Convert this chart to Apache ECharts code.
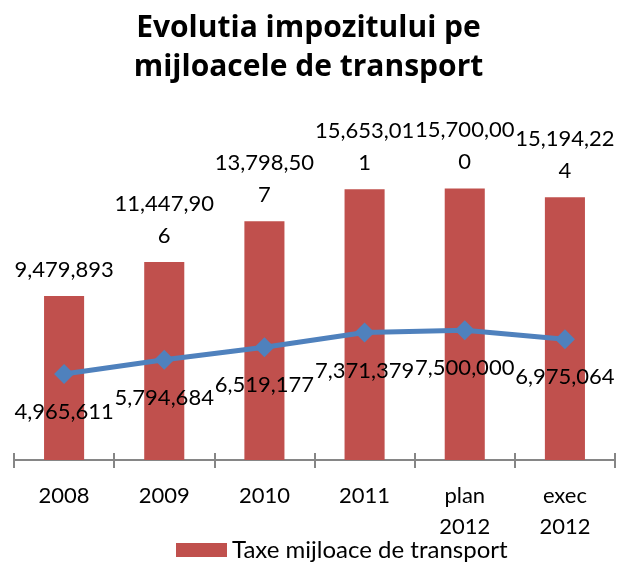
<!DOCTYPE html>
<html>
<head>
<meta charset="utf-8">
<script src="https://cdn.jsdelivr.net/npm/echarts@6/dist/echarts.min.js"></script>
<style>
html,body{margin:0;padding:0;background:#fff;}
#chart{width:617px;height:563px;}
</style>
</head>
<body>
<div id="chart"></div>
<script>
const categories = ['2008', '2009', '2010', '2011', 'plan\n2012', 'exec\n2012'];
const taxeValues = [9479893, 11447906, 13798507, 15653011, 15700000, 15194224];
const impozitValues = [4965611, 5794684, 6519177, 7371379, 7500000, 6975064];
const titleText = 'Evolutia impozitului pe\nmijloacele de transport';
const barSeriesName = 'Taxe mijloace de transport';
const lineSeriesName = 'Impozit mijloace de transport';

function fmt(v) {
  return String(v).replace(/\B(?=(\d{3})+(?!\d))/g, ',');
}
function wrap9(s) {
  return s.length > 9 ? s.slice(0, 9) + '\n' + s.slice(9) : s;
}
const FONT = 'Lato';
const chart = echarts.init(document.getElementById('chart'), null, {renderer: 'canvas'});
chart.setOption({
  animation: false,
  backgroundColor: '#ffffff',
  title: {
    text: titleText,
    left: 'center',
    top: 4,
    textStyle: {fontFamily: 'Open Sans', fontWeight: 'bold', fontSize: 30, lineHeight: 39, color: '#000'}
  },
  legend: {
    data: [barSeriesName],
    left: 176,
    top: 538,
    padding: 0,
    icon: 'rect',
    itemWidth: 51,
    itemHeight: 14,
    textStyle: {fontFamily: FONT, fontSize: 24, color: '#000'}
  },
  grid: {left: 14, right: 2, top: 114, bottom: 103, containLabel: false},
  xAxis: [{
    type: 'category',
    data: categories,
    axisLine: {lineStyle: {color: '#868686', width: 2}},
    axisTick: {show: true, length: 8, lineStyle: {color: '#868686', width: 2}},
    axisLabel: {fontFamily: FONT, fontSize: 22, lineHeight: 31, color: '#000', margin: 20, interval: 0}
  }, {
    type: 'category',
    data: categories,
    position: 'bottom',
    axisLine: {show: false},
    axisTick: {show: true, inside: true, length: 7, lineStyle: {color: '#868686', width: 2}},
    axisLabel: {show: false}
  }],
  yAxis: {
    type: 'value',
    min: 0,
    max: 20000000,
    show: false,
    splitLine: {show: false}
  },
  series: [{
    name: barSeriesName,
    type: 'bar',
    data: taxeValues,
    barWidth: '40%',
    itemStyle: {color: '#C0504D'},
    label: {
      show: true,
      position: 'top',
      distance: 10,
      fontFamily: FONT,
      fontSize: 22,
      lineHeight: 32,
      color: '#000',
      formatter: p => wrap9(fmt(p.value))
    },
    z: 2
  }, {
    name: lineSeriesName,
    type: 'line',
    data: impozitValues,
    symbol: 'diamond',
    symbolSize: 20,
    lineStyle: {color: '#4F81BD', width: 5},
    itemStyle: {color: '#4F81BD'},
    label: {
      show: true,
      position: 'bottom',
      distance: 12,
      fontFamily: FONT,
      fontSize: 22,
      lineHeight: 32,
      color: '#000',
      formatter: p => fmt(p.value)
    },
    z: 3
  }]
});
</script>
</body>
</html>
